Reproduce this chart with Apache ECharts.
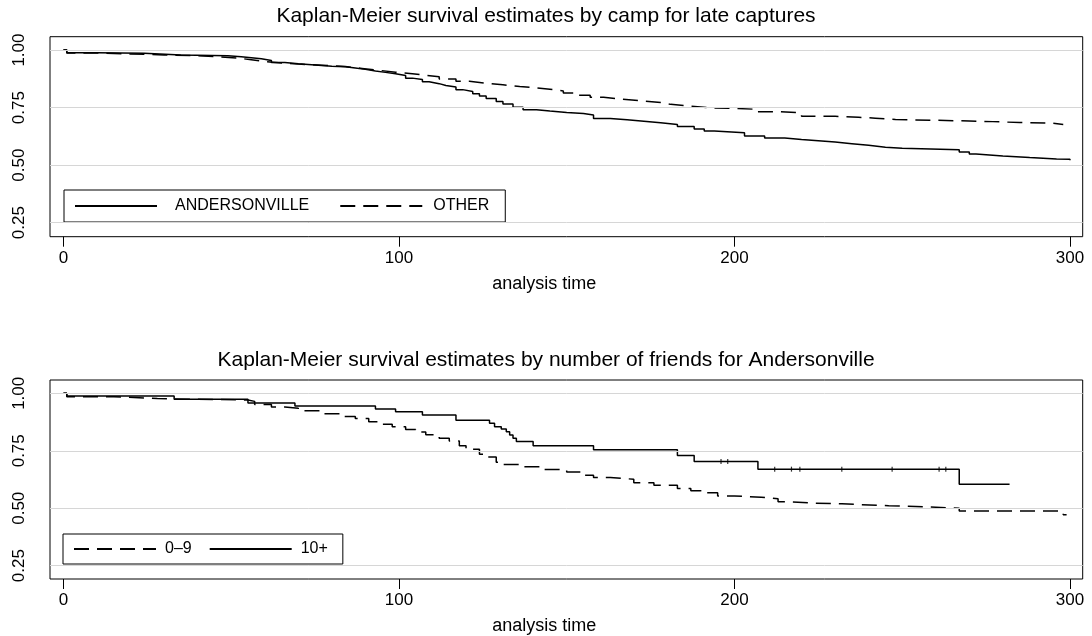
<!DOCTYPE html>
<html><head><meta charset="utf-8">
<script src="https://cdn.jsdelivr.net/npm/echarts@6/dist/echarts.min.js"></script>
<style>html,body{margin:0;padding:0;background:#fff}#c{width:1092px;height:636px}</style>
</head><body><div id="c"></div><script>
// ---- data ----
const xTickValues = [0, 100, 200, 300];
const yTickValues = [0.25, 0.5, 0.75, 1.0];
const titleTop = 'Kaplan-Meier survival estimates by camp for late captures';
const titleBottom = 'Kaplan-Meier survival estimates by number of friends for Andersonville';
const xAxisTitle = 'analysis time';
const campNames = ['ANDERSONVILLE', 'OTHER'];
const friendNames = ['0\u20139', '10+'];

// top: ANDERSONVILLE
const andT = [0,1,10,24,35,49,53,56,59,62,66,70,75,80,84,87,90,93,96,99,102,104,107,109,112,114,117,119,122,124,126,129,131,134,137,141,145,150,155,158,163,168,173,178,183,188,191,194,203,209,215,220,225,230,235,240,245,250,267,270,272,280,288,296,300];
const andS = [1.0,0.988,0.986,0.978,0.975,0.971,0.967,0.962,0.955,0.946,0.940,0.935,0.930,0.927,0.922,0.916,0.909,0.903,0.897,0.889,0.878,0.872,0.862,0.854,0.846,0.839,0.828,0.820,0.810,0.800,0.790,0.776,0.766,0.752,0.741,0.735,0.729,0.724,0.718,0.703,0.697,0.691,0.684,0.677,0.668,0.657,0.648,0.641,0.627,0.618,0.611,0.606,0.600,0.593,0.586,0.578,0.573,0.567,0.557,0.548,0.540,0.533,0.527,0.525,0.521];
// top: OTHER
const othT = [0,1,10,20,30,40,47,52,56,60,65,70,77,84,89,94,99,104,108,112,117,121,126,131,136,141,145,149,153,157,161,166,172,178,181,187,193,200,206,213,220,230,237,242,248,270,277,285,294,298];
const othS = [1.0,0.987,0.983,0.979,0.975,0.970,0.965,0.958,0.950,0.944,0.939,0.934,0.928,0.920,0.912,0.904,0.897,0.890,0.884,0.874,0.864,0.856,0.849,0.842,0.836,0.830,0.822,0.813,0.804,0.795,0.787,0.780,0.772,0.764,0.756,0.749,0.746,0.743,0.732,0.727,0.712,0.708,0.704,0.698,0.692,0.689,0.685,0.683,0.677,0.674];
// bottom: 0-9 friends
const lowT = [0,1,15,21,28,45,55,57,62,66,70,77,83,87,91,95,98,102,105,108,112,115,118,120,124,126,129,131,136,143,150,155,158,163,170,176,183,187,190,195,200,208,213,216,224,232,246,254,267,298,299];
const lowS = [1.0,0.985,0.982,0.977,0.973,0.971,0.965,0.951,0.940,0.935,0.924,0.911,0.899,0.890,0.876,0.865,0.855,0.843,0.832,0.820,0.805,0.792,0.772,0.757,0.735,0.723,0.700,0.690,0.680,0.668,0.658,0.644,0.634,0.626,0.611,0.600,0.586,0.576,0.567,0.553,0.548,0.541,0.528,0.522,0.519,0.511,0.508,0.500,0.488,0.472,0.472];
// bottom: 10+ friends
const highT = [0,1,33,55,69,93,99,107,117,127,128.5,130.5,132,133,134,135,140,158,183,188,207,267,282];
const highS = [1.0,0.988,0.974,0.958,0.945,0.932,0.920,0.906,0.883,0.870,0.855,0.845,0.833,0.819,0.804,0.790,0.772,0.754,0.729,0.703,0.670,0.604,0.604];
const highCensorT = [196,198,212,217,219.5,232,247,261,263];

// ---- helpers ----
const zip = (t, s) => t.map((v, i) => [v, s[i]]);
const stepAt = (t, s, x) => { let v = s[0]; for (let i = 0; i < t.length; i++) { if (t[i] <= x) v = s[i]; } return v; };

const FONT = '"Liberation Sans", Arial, Helvetica, sans-serif';
const DASH = [15, 8];

function xAx(gi) {
  return {
    gridIndex: gi, type: 'value', min: -4, max: 303.8,
    axisLine: { show: false },
    axisTick: { show: true, customValues: xTickValues, length: 10, lineStyle: { color: '#000', width: 1 } },
    axisLabel: { customValues: xTickValues, fontSize: 17, color: '#000', fontFamily: FONT, margin: 13 },
    splitLine: { show: false },
    name: xAxisTitle, nameLocation: 'middle', nameGap: 38,
    nameTextStyle: { fontSize: 18, color: '#000', fontFamily: FONT, padding: [0, 44, 0, 0] }
  };
}
function yAx(gi, mn, mx) {
  return {
    gridIndex: gi, type: 'value', min: mn, max: mx,
    axisLine: { show: false },
    axisTick: { show: true, customValues: yTickValues, length: 10, lineStyle: { color: '#000', width: 1 } },
    axisLabel: { customValues: yTickValues, rotate: 90, fontSize: 17, color: '#000', fontFamily: FONT, margin: 22,
      formatter: v => Number(v).toFixed(2) },
    splitLine: { show: false }
  };
}
function gridLines() {
  return {
    silent: true, symbol: 'none', label: { show: false },
    lineStyle: { color: '#d6d6d6', width: 1, type: 'solid' },
    emphasis: { disabled: true },
    data: yTickValues.map(v => ({ yAxis: v }))
  };
}
function lineSeries(name, gi, t, s, dashed) {
  return {
    name, type: 'line', xAxisIndex: gi, yAxisIndex: gi, step: 'end',
    symbol: 'none', showSymbol: false, z: 3,
    lineStyle: { color: '#000', width: 1.5, type: dashed ? DASH : 'solid' },
    itemStyle: { color: '#000' },
    emphasis: { disabled: true },
    data: zip(t, s)
  };
}
const hiddenSymbol = { color: 'rgba(0,0,0,0)', borderColor: 'rgba(0,0,0,0)', borderWidth: 0, opacity: 0 };
const legendText = pad => ({ fontSize: 16, color: '#000', fontFamily: FONT, padding: [0, 0, 0, pad] });

const chart = echarts.init(document.getElementById('c'), null, { renderer: 'canvas' });
chart.setOption({
  animation: false,
  backgroundColor: '#fff',
  textStyle: { fontFamily: FONT },
  title: [
    { text: titleTop, left: 'center', top: 6, padding: 0, textStyle: { fontSize: 21, fontWeight: 'normal', color: '#000', fontFamily: FONT } },
    { text: titleBottom, left: 'center', top: 350, padding: 0, textStyle: { fontSize: 21, fontWeight: 'normal', color: '#000', fontFamily: FONT } }
  ],
  grid: [
    { left: 50, top: 36.7, width: 1032.7, height: 200, show: true, borderColor: '#000', borderWidth: 1, backgroundColor: 'transparent' },
    { left: 50, top: 380, width: 1032.7, height: 199.3, show: true, borderColor: '#000', borderWidth: 1, backgroundColor: 'transparent' }
  ],
  xAxis: [xAx(0), xAx(1)],
  yAxis: [yAx(0, 0.189, 1.058), yAx(1, 0.192, 1.058)],
  legend: [
    { data: [{ name: campNames[0], textStyle: legendText(13) }, { name: campNames[1], textStyle: legendText(6) }],
      left: 64, top: 190, orient: 'horizontal', itemWidth: 82, itemHeight: 16, itemGap: 30,
      padding: [8, 16, 8, 10], borderColor: '#000', borderWidth: 1, selectedMode: false,
      itemStyle: hiddenSymbol, textStyle: legendText(13) },
    { data: [{ name: friendNames[0], textStyle: legendText(4) }, { name: friendNames[1], textStyle: legendText(4) }],
      left: 63, top: 534, orient: 'horizontal', itemWidth: 82, itemHeight: 15, itemGap: 17,
      padding: [7, 15, 7, 10], borderColor: '#000', borderWidth: 1, selectedMode: false,
      itemStyle: hiddenSymbol, textStyle: legendText(4) }
  ],
  series: [
    { type: 'line', xAxisIndex: 0, yAxisIndex: 0, data: [], z: 1, silent: true, markLine: gridLines() },
    { type: 'line', xAxisIndex: 1, yAxisIndex: 1, data: [], z: 1, silent: true, markLine: gridLines() },
    lineSeries(campNames[0], 0, andT, andS, false),
    lineSeries(campNames[1], 0, othT, othS, true),
    lineSeries(friendNames[0], 1, lowT, lowS, true),
    lineSeries(friendNames[1], 1, highT, highS, false),
    { name: 'censored', type: 'scatter', xAxisIndex: 1, yAxisIndex: 1, symbol: 'rect', symbolSize: [1.2, 5], z: 4,
      itemStyle: { color: '#000' }, silent: true,
      data: highCensorT.map(x => [x, stepAt(highT, highS, x)]) }
  ]
});
</script></body></html>
